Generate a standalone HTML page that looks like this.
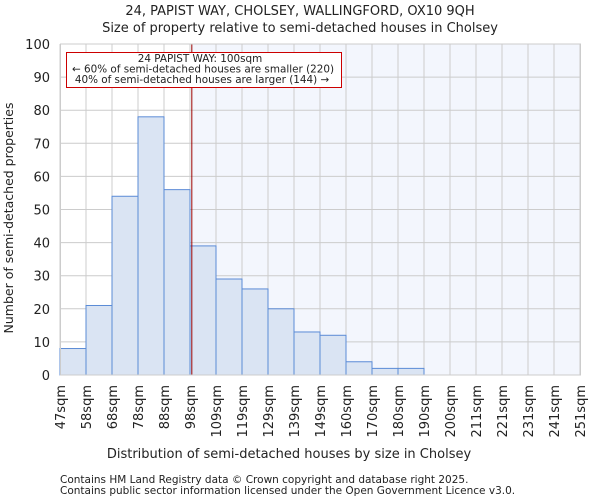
<!DOCTYPE html>
<html><head><meta charset="utf-8"><style>
body{margin:0;background:#fff;font-family:"DejaVu Sans","Liberation Sans",sans-serif}
svg text{font-family:"DejaVu Sans","Liberation Sans",sans-serif;fill:#222}
</style></head><body>
<svg id="c" width="600" height="500"></svg>
<script>
const binLabels=["47sqm","58sqm","68sqm","78sqm","88sqm","98sqm","109sqm","119sqm","129sqm","139sqm","149sqm","160sqm","170sqm","180sqm","190sqm","200sqm","211sqm","221sqm","231sqm","241sqm","251sqm"];
const counts=[8,21,54,78,56,39,29,26,20,13,12,4,2,2,0,0,0,0,0,0];
const yTicks=[0,10,20,30,40,50,60,70,80,90,100];
const markerBin=5.07;
const L=60,R=580,T=44,B=375,yMax=100;
const svg=document.getElementById('c');
const NS='http://www.w3.org/2000/svg';
const bw=(R-L)/counts.length;
const xs=i=>L+i*bw;
const ys=v=>B-(v/yMax)*(B-T);
function mk(tag,attrs,parent){const e=document.createElementNS(NS,tag);for(const k in attrs)e.setAttribute(k,attrs[k]);(parent||svg).appendChild(e);return e;}
let e;
e=mk('rect',{x:xs(markerBin),y:T,width:R-xs(markerBin),height:B-T,fill:'#f3f6fd'});


yTicks.forEach(t=>{
 e=mk('line',{x1:L,x2:R,y1:ys(t),y2:ys(t),stroke:'#ccc','stroke-width':1});
 
 
 e=mk('text',{x:L-10,y:ys(t)+5,'text-anchor':'end','font-size':13});
 e.textContent=t;
 
 
});
binLabels.forEach((lb,i)=>{
 e=mk('line',{x1:xs(i),x2:xs(i),y1:T,y2:B,stroke:'#ccc','stroke-width':1});
 
 
 e=mk('text',{transform:`translate(${xs(i)+5},${B+10}) rotate(-90)`,'text-anchor':'end','font-size':13});
 e.textContent=lb;
 
 
});
counts.forEach((v,i)=>{
 if(v<=0)return;
 e=mk('rect',{x:xs(i),y:ys(v),width:bw,height:B-ys(v),fill:'#dae4f3',stroke:'#5b8bd6','stroke-width':1});
 
 
});
e=mk('line',{x1:xs(markerBin),x2:xs(markerBin),y1:T,y2:B,stroke:'#900','stroke-width':1});


e=mk('rect',{x:L+.5,y:T,width:R-L,height:B-T,fill:'none',stroke:'#ccc'});


</script>
<svg width="600" height="500" style="position:absolute;left:0;top:0">
<g>
<rect x="66.5" y="52.5" width="275" height="35" fill="#fff" stroke="#c00"/>
<text x="200" y="62" font-size="10.4" text-anchor="middle">24 PAPIST WAY: 100sqm</text>
<text x="203" y="72.5" font-size="10.4" text-anchor="middle">← 60% of semi-detached houses are smaller (220)</text>
<text x="202" y="83" font-size="10.4" text-anchor="middle">40% of semi-detached houses are larger (144) →</text>
</g>
<text x="300" y="15" font-size="13" text-anchor="middle">24, PAPIST WAY, CHOLSEY, WALLINGFORD, OX10 9QH</text>
<text x="300" y="32" font-size="13" text-anchor="middle">Size of property relative to semi-detached houses in Cholsey</text>
<text x="289" y="458" font-size="13" text-anchor="middle">Distribution of semi-detached houses by size in Cholsey</text>
<text transform="translate(13,218) rotate(-90)" font-size="12.5" text-anchor="middle">Number of semi-detached properties</text>
<text x="60" y="483" font-size="10.5" fill="#444">Contains HM Land Registry data © Crown copyright and database right 2025.</text>
<text x="60" y="494" font-size="10.5" fill="#444">Contains public sector information licensed under the Open Government Licence v3.0.</text>
</svg>
</body></html>
